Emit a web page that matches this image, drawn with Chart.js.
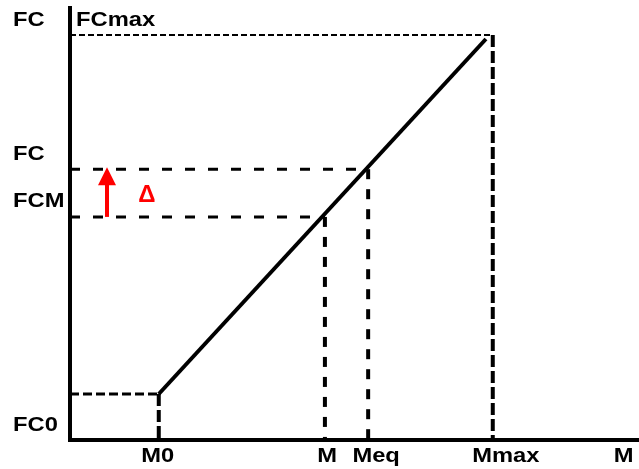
<!DOCTYPE html>
<html>
<head>
<meta charset="utf-8">
<script src="https://cdn.jsdelivr.net/npm/chart.js@4"></script>
<style>
  html, body { margin: 0; padding: 0; background: #fff; }
  #wrap { width: 639px; height: 469px; }
</style>
</head>
<body>
<div id="wrap"><canvas id="fcChart" width="639" height="469"></canvas></div>
<script>
// Key points of the diagram (abstract units, 0..100 on both axes)
const M0 = 15.6, M = 44.8, Meq = 52.4, Mmax = 74.3;
const FC0 = 10.6, FCM = 51.4, FC = 62.4, FCmax = 93.3;
const lineEnd = { x: 73.1, y: 92.4 };
const arrowX = 6.5;
const deltaAt = { x: 13.5, y: 56.4 };

// Axis labels and where they sit along the axis
const xLabels = ['M0', 'M', 'Meq', 'Mmax', 'M'];
const xLabelAt = [15.4, 45.2, 53.8, 76.6, 97.3];
const yLabels = ['FC', 'FC', 'FCM', 'FC0'];
const yLabelAt = [96.8, 65.8, 55.0, 3.3];

const FONT = 'bold 21px "Liberation Sans", Arial, sans-serif';
const STRETCH = 1.13;

function seg(points, width, dash, color) {
  return {
    data: points,
    showLine: true,
    borderColor: color || '#000',
    borderWidth: width,
    borderDash: dash || [],
    pointRadius: 0,
    clip: false
  };
}

// labels in the picture are a little wider than the plain font
function wideText(ctx, t, px, py) {
  ctx.save();
  ctx.translate(px, py);
  ctx.scale(STRETCH, 1);
  ctx.fillText(t, 0, 0);
  ctx.restore();
}

// text, arrow head and delta drawn on top using the chart scales
const annotate = {
  id: 'annotate',
  afterDraw(chart) {
    const { ctx, scales: { x, y } } = chart;
    ctx.save();
    ctx.fillStyle = '#000';
    ctx.font = FONT;
    ctx.textBaseline = 'middle';

    ctx.textAlign = 'center';
    xLabels.forEach((t, i) => wideText(ctx, t, x.getPixelForValue(xLabelAt[i]), 456));

    ctx.textAlign = 'left';
    yLabels.forEach((t, i) => wideText(ctx, t, 13, y.getPixelForValue(yLabelAt[i])));
    wideText(ctx, 'FCmax', x.getPixelForValue(0) + 6, y.getPixelForValue(yLabelAt[0]));

    // red arrow head
    const ax = x.getPixelForValue(arrowX);
    const ay = y.getPixelForValue(FC) - 2;
    ctx.fillStyle = '#ff0000';
    ctx.beginPath();
    ctx.moveTo(ax, ay);
    ctx.lineTo(ax + 9, ay + 18);
    ctx.lineTo(ax - 9, ay + 18);
    ctx.closePath();
    ctx.fill();

    ctx.textAlign = 'center';
    ctx.font = 'bold 24px "Liberation Sans", Arial, sans-serif';
    ctx.fillText('\u0394', x.getPixelForValue(deltaAt.x), y.getPixelForValue(deltaAt.y));
    ctx.restore();
  }
};

new Chart(document.getElementById('fcChart'), {
  type: 'scatter',
  data: {
    datasets: [
      // axes
      seg([{ x: 0, y: 100 }, { x: 0, y: 0 }, { x: 100, y: 0 }], 4),
      // FC0 / M0 guides
      seg([{ x: 0, y: FC0 }, { x: M0, y: FC0 }], 3, [9, 4]),
      seg([{ x: M0, y: FC0 }, { x: M0, y: 0 }], 4, [12, 4]),
      // FCM / M guides
      seg([{ x: 0, y: FCM }, { x: M, y: FCM }], 3, [10, 13]),
      seg([{ x: M, y: FCM }, { x: M, y: 0 }], 4, [10, 10]),
      // FC / Meq guides
      seg([{ x: 0, y: FC }, { x: Meq, y: FC }], 3, [10, 13]),
      seg([{ x: Meq, y: FC }, { x: Meq, y: 0 }], 4, [10, 10]),
      // FCmax / Mmax guides
      seg([{ x: 0, y: FCmax }, { x: Mmax, y: FCmax }], 2, [6, 3]),
      seg([{ x: Mmax, y: FCmax }, { x: Mmax, y: 0 }], 4, [12, 4]),
      // characteristic line
      seg([{ x: M0, y: FC0 }, lineEnd], 4),
      // red arrow shaft
      seg([{ x: arrowX, y: FCM }, { x: arrowX, y: FC - 3 }], 4, [], '#ff0000')
    ]
  },
  options: {
    responsive: false,
    animation: false,
    layout: { padding: { left: 70, top: 6, right: 0, bottom: 29 } },
    plugins: { legend: { display: false }, tooltip: { enabled: false } },
    scales: {
      x: { type: 'linear', min: 0, max: 100, display: false },
      y: { type: 'linear', min: 0, max: 100, display: false }
    }
  },
  plugins: [annotate]
});
</script>
</body>
</html>
